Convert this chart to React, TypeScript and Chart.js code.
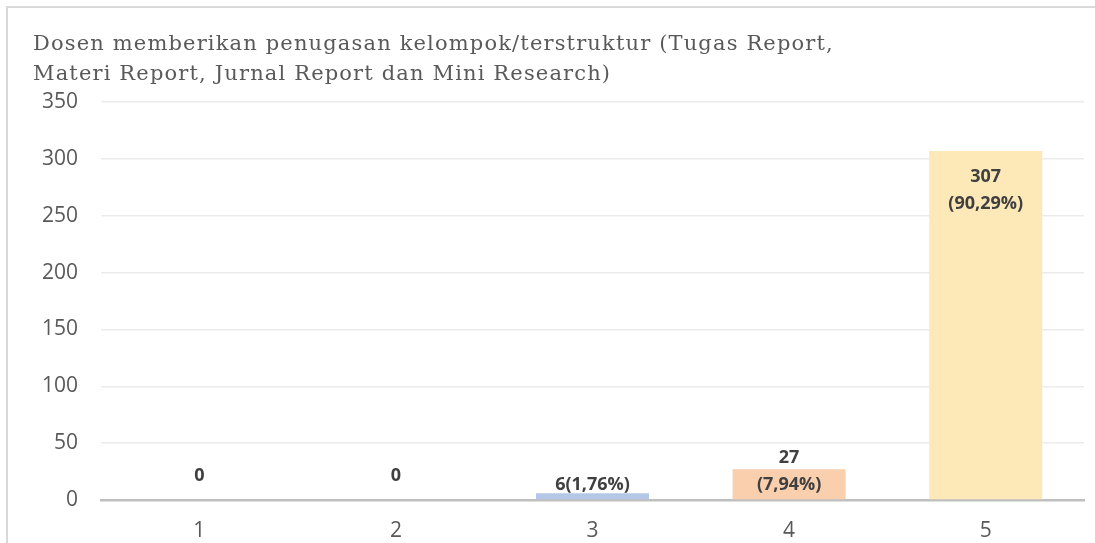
import React, { useEffect, useRef } from "react";
import { Chart, registerables } from "chart.js";

Chart.register(...registerables);

const categories = ["1", "2", "3", "4", "5"];
const counts = [0, 0, 6, 27, 307];
const dataLabels = ["0", "0", "6(1,76%)", "27\n(7,94%)", "307\n(90,29%)"];
const barColors = ["#b4c7e7", "#b4c7e7", "#b4c7e7", "#f9cfae", "#fde9b8"];
const titleLines = [
  "Dosen memberikan penugasan kelompok/terstruktur (Tugas Report,",
  "Materi Report, Jurnal Report dan Mini Research)",
];
const yMin = 0;
const yMax = 350;
const yStep = 50;

const titlePlugin = {
  id: "customTitle",
  afterDraw(chart: any) {
    const ctx = chart.ctx;
    ctx.save();
    ctx.font = "21px 'DejaVu Serif'";
    ctx.fillStyle = "#595959";
    ctx.textAlign = "left";
    ctx.textBaseline = "alphabetic";
    try { (ctx as any).letterSpacing = "1.15px"; } catch (e) {}
    titleLines.forEach((line, i) => {
      ctx.fillText(line, 33, 50 + i * 30);
    });
    ctx.restore();
  },
};

const labelOffsets = [-24, -24, -8, -11, 26];

const dataLabelPlugin = {
  id: "barValueLabels",
  afterDatasetsDraw(chart: any) {
    const ctx = chart.ctx;
    const meta = chart.getDatasetMeta(0);
    ctx.save();
    ctx.font = "bold 18px 'Open Sans'";
    ctx.fillStyle = "#404040";
    ctx.textAlign = "center";
    ctx.textBaseline = "middle";
    meta.data.forEach((bar: any, i: number) => {
      const lines = dataLabels[i].split("\n");
      const y0 = bar.y + labelOffsets[i];
      lines.forEach((ln, j) => {
        ctx.fillText(ln, bar.x, y0 + j * 27);
      });
    });
    ctx.restore();
  },
};

export default function App() {
  const canvasRef = useRef<HTMLCanvasElement | null>(null);

  useEffect(() => {
    document.body.style.margin = "0";
    const canvas = canvasRef.current;
    if (!canvas) return;
    const chart = new Chart(canvas, {
      type: "bar",
      data: {
        labels: categories,
        datasets: [
          {
            data: counts,
            backgroundColor: barColors,
            borderWidth: 0,
            categoryPercentage: 1,
            barPercentage: 0.575,
          },
        ],
      },
      options: {
        animation: false,
        responsive: false,
        maintainAspectRatio: false,
        layout: { padding: { top: 102, right: 11, left: 0, bottom: 0 } },
        plugins: {
          legend: { display: false },
          title: { display: false },
          tooltip: { enabled: false },
        },
        scales: {
          x: {
            grid: { display: false, drawTicks: false },
            border: { display: true, color: "#bfbfbf", width: 2.5 },
            ticks: {
              font: { family: "'Open Sans'", size: 21 },
              color: "#595959",
              padding: 18,
            },
            afterFit(scale: any) {
              scale.height = 43;
            },
          },
          y: {
            min: yMin,
            max: yMax,
            grid: { color: "#ebebeb", lineWidth: 1.5, drawTicks: false },
            border: { display: false },
            ticks: {
              stepSize: yStep,
              font: { family: "'Open Sans'", size: 21 },
              color: "#595959",
              padding: 23,
            },
            afterFit(scale: any) {
              scale.width = 101;
            },
          },
        },
      },
      plugins: [dataLabelPlugin, titlePlugin],
    });
    return () => chart.destroy();
  }, []);

  return (
    <div style={{ position: "relative", width: 1095, height: 543, overflow: "hidden", background: "#fff" }}>
      <div
        style={{
          position: "absolute",
          left: 6,
          top: 6,
          width: 1089,
          height: 537,
          borderTop: "2px solid #d9d9d9",
          borderLeft: "2px solid #d9d9d9",
          boxSizing: "border-box",
        }}
      />
      <canvas
        ref={canvasRef}
        width={1095}
        height={543}
        style={{ position: "absolute", left: 0, top: 0, width: 1095, height: 543 }}
      />
    </div>
  );
}
